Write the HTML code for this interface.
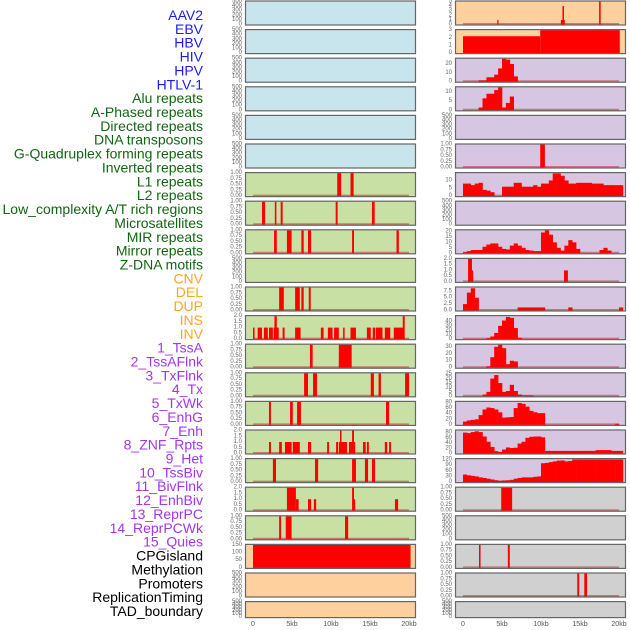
<!DOCTYPE html>
<html><head><meta charset="utf-8"><style>
html,body{margin:0;padding:0;background:#fff;}
svg{display:block;font-family:"Liberation Sans",sans-serif;}
</style></head><body>
<svg id="chart" width="630" height="630" viewBox="0 0 630 630" xmlns="http://www.w3.org/2000/svg"></svg>
<script>
// ---------- data ----------
const trackLabels = ["AAV2","EBV","HBV","HIV","HPV","HTLV-1","Alu repeats","A-Phased repeats","Directed repeats","DNA transposons","G-Quadruplex forming repeats","Inverted repeats","L1 repeats","L2 repeats","Low_complexity A/T rich regions","Microsatellites","MIR repeats","Mirror repeats","Z-DNA motifs","CNV","DEL","DUP","INS","INV","1_TssA","2_TssAFlnk","3_TxFlnk","4_Tx","5_TxWk","6_EnhG","7_Enh","8_ZNF_Rpts","9_Het","10_TssBiv","11_BivFlnk","12_EnhBiv","13_ReprPC","14_ReprPCWk","15_Quies","CPGisland","Methylation","Promoters","ReplicationTiming","TAD_boundary"];
const groupSizes = [6,13,5,15,5];
const xTickValues = [0,5,10,15,20];
const xTickLabels = ["0","5kb","10kb","15kb","20kb"];

// segment tracks: [startKb, endKb, value]
const segAlu = [[10.8,11.3,1],[12.5,12.9,1]];
const segAPhased = [[1.15,1.55,1],[2.8,3.0,1],[3.55,3.8,1],[10.6,10.85,1],[15.25,15.6,1]];
const segDirected = [[2.7,3.05,1],[4.35,4.95,1],[6.2,6.5,1],[7.05,7.45,1],[12.7,12.95,1],[18.4,18.7,1]];
const segGQuad = [[3.35,3.95,1],[5.4,6.0,1],[6.2,6.5,1],[7.15,7.4,1]];
const segInverted = [[0,0.2,1],[0.6,1.15,1],[1.4,1.9,1],[2.05,2.55,1],[2.65,3.3,1],[2.75,3.05,2],[3.8,4.05,1],[5.4,6.1,1],[8.7,9.05,1],[9.6,10.2,1],[10.4,11.0,1],[11.55,11.75,1],[12.5,13.2,1],[14.6,15.1,1],[15.35,15.65,1],[15.75,16.6,1],[16.9,17.6,1],[18.05,19.35,1],[19.2,19.45,2]];
const segL1 = [[7.3,7.65,1],[11.0,12.65,1]];
const segL2 = [[6.55,7.05,1],[7.7,8.2,1],[15.1,15.5,1],[16.1,16.4,1],[19.5,20.0,1]];
const segLowComplexity = [[2.05,2.3,1],[4.75,5.1,1],[5.65,6.15,1],[17.05,17.45,1]];
const segMicro = [[2.05,2.3,1],[3.35,3.7,1],[4.1,4.95,1],[5.1,6.0,1],[7.05,7.45,1],[9.5,9.75,1],[10.65,10.9,1],[11.0,12.05,1],[11.15,11.35,2],[12.3,13.1,1],[12.7,12.95,2],[14.1,14.45,1],[14.6,14.85,1],[16.9,17.2,1],[17.45,17.7,1]];
const segMIR = [[2.55,2.95,1],[7.95,8.35,1],[12.7,13.2,1],[14.35,14.75,1],[15.25,15.65,1]];
const segMirror = [[4.35,5.5,2],[5.5,5.85,1],[7.05,7.45,1],[7.8,8.1,1],[12.7,12.95,2],[12.95,13.1,1],[18.2,18.6,1]];
const segZDNA = [[3.35,3.6,1],[4.2,4.95,1],[11.8,12.2,1]];
const segCNV = [[0,20.2,150]];
const segINS = [[4.4,4.55,1],[12.55,13.05,1],[12.75,12.95,4],[17.45,17.65,5]];
const segINV = [[0,9.9,2.2],[9.9,20.1,3]];
const segTx = [[9.9,10.5,1]];
const segZNF = [[0.65,1.15,2],[1.15,1.25,1],[12.95,13.45,1]];
const segCPG = [[4.9,6.3,1]];
const segPromoters = [[2.05,2.25,1],[5.75,6.0,1]];
const segRepTiming = [[14.65,14.9,1],[15.55,15.9,1]];

// histogram tracks: values per 0.5kb bin
const binTssA = [0,0,0,0,1.5,1.5,5,5,8,15,26,25,20,6,0];
const binTssAFlnk = [0,0,0,0,1.5,6.5,9,9,11,12.5,1.5,4,7.5];
const binTxWk = [8,8,7,8,8.5,4,3.5,2.5,0,0,6,6,6,8.5,8.5,6,6,6,7,6,8,8,10,14.5,14.5,13,10,8,8,8.5,8.5,8.5,8.5,8,8,8,7,7,7,7,7];
const binEnh = [1,2,3,3,3,6,8,9,9,6,4,3.5,7,9,7,5,3,2.5,2,2,19,21,17,10,5,2.5,7,12,10,4,0,0,0,0,0,3,5,2.5];
const binHet = [2.5,7,8.7,5,0,0,0,0,0,0,0,0,0,0,1.2,1.2,1.2,1.2,1.2,1.2,1.2,0,0,0,0,0,0,1.2,0,0,0,0,0,0,0,0,0,0,0,0,1.2];
const binTssBiv = [0,0,0,0,0,0,2,6,14,30,42,50,48,25,3];
const binBivFlnk = [0,0,0,0,0,0,2,15,30,33,28,5,10,9];
const binEnhBiv = [0,0,0,0,0,2,5,20,24,15,5,6,13,6,2,1,1,1];
const binReprPC = [12,16,18,20,35,55,62,60,55,45,26,27,28,60,78,75,65,50,45,42,42,0,0,0,0,0,0,0,0,0,0,0,0,0,0,0,0,0,0,4];
const binReprPCWk = [80,78,82,85,82,65,45,25,9,6,15,23,21,22,38,45,60,64,65,65,62,10,10,10,10,10,10,10,10,10,10,10,10,10,13,13,13,13,10,10,10];
const binQuies = [40,36,33,30,25,22,18,14,10,7,9,10,12,18,22,25,25,25,28,30,100,102,106,110,114,115,110,112,120,120,120,120,120,120,120,120,120,120,120,120,120];

// tick values & labels
const tick500 = [0,100,200,300,400,500];
const tick500Labels = ["0","100","200","300","400","500"];
const tick1 = [0,0.25,0.5,0.75,1];
const tick1Labels = ["0.00","0.25","0.50","0.75","1.00"];
const tick2 = [0,0.5,1,1.5,2];
const tick2Labels = ["0.0","0.5","1.0","1.5","2.0"];
const tickCNV = [0,50,100,150];
const tickINS = [0,1,2,3,4,5];
const tickINV = [0,1,2,3];
const tickTssA = [0,10,20];
const tick5to10 = [0,5,10];
const tickEnh = [0,5,10,15,20];
const tickHet = [0,2.5,5,7.5];
const tickHetLabels = ["0.0","2.5","5.0","7.5"];
const tickTssBiv = [0,10,20,30,40];
const tickBivFlnk = [0,10,20,30];
const tickEnhBiv = [0,5,10,15,20,25];
const tick80 = [0,20,40,60,80];
const tickQuies = [0,30,60,90,120];

// ---------- layout ----------
const BG = {blue:"#c8e4ec",green:"#c8e0a4",orange:"#fdd09e",purple:"#d6c6e2",gray:"#d0d0d0"};
const LABEL_COLORS = ["#1c1cf0","#116611","#ffa524","#a235ee","#000000"];
const panels = [
 // left column
 {c:0,r:0,bg:"blue",max:500,ticks:tick500,tl:tick500Labels},
 {c:0,r:1,bg:"blue",max:500,ticks:tick500,tl:tick500Labels},
 {c:0,r:2,bg:"blue",max:500,ticks:tick500,tl:tick500Labels},
 {c:0,r:3,bg:"blue",max:500,ticks:tick500,tl:tick500Labels},
 {c:0,r:4,bg:"blue",max:500,ticks:tick500,tl:tick500Labels},
 {c:0,r:5,bg:"blue",max:500,ticks:tick500,tl:tick500Labels},
 {c:0,r:6,bg:"green",max:1,ticks:tick1,tl:tick1Labels,seg:segAlu},
 {c:0,r:7,bg:"green",max:1,ticks:tick1,tl:tick1Labels,seg:segAPhased},
 {c:0,r:8,bg:"green",max:1,ticks:tick1,tl:tick1Labels,seg:segDirected},
 {c:0,r:9,bg:"green",max:500,ticks:tick500,tl:tick500Labels},
 {c:0,r:10,bg:"green",max:1,ticks:tick1,tl:tick1Labels,seg:segGQuad},
 {c:0,r:11,bg:"green",max:2,ticks:tick2,tl:tick2Labels,seg:segInverted},
 {c:0,r:12,bg:"green",max:1,ticks:tick1,tl:tick1Labels,seg:segL1},
 {c:0,r:13,bg:"green",max:1,ticks:tick1,tl:tick1Labels,seg:segL2},
 {c:0,r:14,bg:"green",max:1,ticks:tick1,tl:tick1Labels,seg:segLowComplexity},
 {c:0,r:15,bg:"green",max:2,ticks:tick2,tl:tick2Labels,seg:segMicro},
 {c:0,r:16,bg:"green",max:1,ticks:tick1,tl:tick1Labels,seg:segMIR},
 {c:0,r:17,bg:"green",max:2,ticks:tick2,tl:tick2Labels,seg:segMirror},
 {c:0,r:18,bg:"green",max:1,ticks:tick1,tl:tick1Labels,seg:segZDNA},
 {c:0,r:19,bg:"orange",max:150,ticks:tickCNV,seg:segCNV},
 {c:0,r:20,bg:"orange",max:500,ticks:tick500,tl:tick500Labels},
 {c:0,r:21,bg:"orange",max:500,ticks:tick500,tl:tick500Labels,small:true},
 // right column
 {c:1,r:0,bg:"orange",max:5,ticks:tickINS,seg:segINS},
 {c:1,r:1,bg:"orange",max:3,ticks:tickINV,seg:segINV},
 {c:1,r:2,bg:"purple",max:26,ticks:tickTssA,bins:binTssA},
 {c:1,r:3,bg:"purple",max:12.5,ticks:tick5to10,bins:binTssAFlnk},
 {c:1,r:4,bg:"purple",max:500,ticks:tick500,tl:tick500Labels},
 {c:1,r:5,bg:"purple",max:1,ticks:tick1,tl:tick1Labels,seg:segTx},
 {c:1,r:6,bg:"purple",max:14.7,ticks:tick5to10,bins:binTxWk},
 {c:1,r:7,bg:"purple",max:500,ticks:tick500,tl:tick500Labels},
 {c:1,r:8,bg:"purple",max:21,ticks:tickEnh,bins:binEnh},
 {c:1,r:9,bg:"purple",max:2,ticks:tick2,tl:tick2Labels,seg:segZNF},
 {c:1,r:10,bg:"purple",max:9,ticks:tickHet,tl:tickHetLabels,bins:binHet},
 {c:1,r:11,bg:"purple",max:52,ticks:tickTssBiv,bins:binTssBiv},
 {c:1,r:12,bg:"purple",max:33,ticks:tickBivFlnk,bins:binBivFlnk},
 {c:1,r:13,bg:"purple",max:26,ticks:tickEnhBiv,bins:binEnhBiv},
 {c:1,r:14,bg:"purple",max:82,ticks:tick80,bins:binReprPC},
 {c:1,r:15,bg:"purple",max:88,ticks:tick80,bins:binReprPCWk},
 {c:1,r:16,bg:"purple",max:122,ticks:tickQuies,bins:binQuies},
 {c:1,r:17,bg:"gray",max:1,ticks:tick1,tl:tick1Labels,seg:segCPG},
 {c:1,r:18,bg:"gray",max:500,ticks:tick500,tl:tick500Labels},
 {c:1,r:19,bg:"gray",max:1,ticks:tick1,tl:tick1Labels,seg:segPromoters},
 {c:1,r:20,bg:"gray",max:1,ticks:tick1,tl:tick1Labels,seg:segRepTiming},
 {c:1,r:21,bg:"gray",max:500,ticks:tick500,tl:tick500Labels,small:true}
];

const NS = "http://www.w3.org/2000/svg";
const svg = document.getElementById("chart");
function mk(tag, attrs, parent){
  const e = document.createElementNS(NS, tag);
  for (const k in attrs) e.setAttribute(k, attrs[k]);
  (parent||svg).appendChild(e);
  return e;
}
const COL_X = [245, 455];
const PW = 171;
function xScale(c, kb){ return COL_X[c] + 8 + kb * 7.8; }
function rowTop(r){ return 0.5 + r * 28.6; }
function panelH(p){ return p.small ? 17 : 25; }
function yScale(p, v){ const t = rowTop(p.r); const h = panelH(p); return t + h - 1 - v / p.max * (h - 2); }

// labels
let gi = 0, cnt = 0;
trackLabels.forEach(function(lab, i){
  while (cnt >= groupSizes[gi]) { cnt = 0; gi++; }
  cnt++;
  const t = mk("text", {x:203, y:15 + i*13.86, "text-anchor":"end", "dominant-baseline":"central", "font-size":"14", fill:LABEL_COLORS[gi]});
  
  
  t.textContent = lab;
});

panels.forEach(function(p, pi){
  const g = mk("g", {});
  
  
  const top = rowTop(p.r), h = panelH(p), x0 = COL_X[p.c];
  const bg = mk("rect", {x:x0, y:top, width:PW, height:h, fill:BG[p.bg], stroke:"none"}, g);
  
  
  const hasData = !!(p.seg || p.bins);
  if (hasData) {
    const bl = mk("line", {x1:xScale(p.c,0), x2:xScale(p.c,20), y1:yScale(p,0)-0.5, y2:yScale(p,0)-0.5, stroke:"rgba(190,60,60,0.6)", "stroke-width":2}, g);
    
    
  }
  if (p.seg) {
    p.seg.forEach(function(s){
      const xa = xScale(p.c, s[0]), xb = xScale(p.c, s[1]);
      const ya = yScale(p, s[2]), yb = yScale(p, 0);
      const b = mk("rect", {x:xa, y:ya, width:Math.max(1.2, xb-xa), height:yb-ya, fill:"#ff0000"}, g);
      
      
    });
  }
  if (p.bins) {
    p.bins.forEach(function(v, i){
      if (v <= 0) return;
      const xa = xScale(p.c, i*0.5), xb = xScale(p.c, i*0.5+0.5);
      const ya = yScale(p, v), yb = yScale(p, 0);
      const b = mk("rect", {x:xa, y:ya, width:xb-xa+0.3, height:yb-ya, fill:"#ff0000"}, g);
      
      
    });
  }
  const fr = mk("rect", {x:x0+0.5, y:top+0.5, width:PW-1, height:h-1, fill:"none", stroke:"#666", "stroke-width":1.2}, g);
  
  
  p.ticks.forEach(function(v, k){
    const t = mk("text", {x:x0-3, y:yScale(p, v), "text-anchor":"end", "dominant-baseline":"central", "font-size":"6", fill:"#666"}, g);
    
    
    t.textContent = p.tl ? p.tl[k] : String(v);
  });
});

[0,1].forEach(function(c){
  xTickValues.forEach(function(v, k){
    const t = mk("text", {x:xScale(c, v), y:626, "text-anchor":"middle", "font-size":"7", fill:"#555"});
    
    
    t.textContent = xTickLabels[k];
  });
});
</script>
</body></html>
